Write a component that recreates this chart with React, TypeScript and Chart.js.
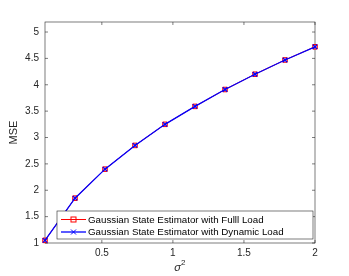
import React, { useEffect, useRef } from "react";
import { Chart, registerables } from "chart.js";

Chart.register(...registerables);

const sigma2 = [0.1, 0.3111, 0.5222, 0.7333, 0.9444, 1.1556, 1.3667, 1.5778, 1.7889, 2.0];
const mseFull = [1.05, 1.85, 2.4, 2.85, 3.25, 3.59, 3.91, 4.2, 4.47, 4.72];
const mseDynamic = [1.05, 1.85, 2.4, 2.85, 3.25, 3.59, 3.91, 4.2, 4.47, 4.72];
const xTicks = [0.5, 1, 1.5, 2];
const yTicks = [1, 1.5, 2, 2.5, 3, 3.5, 4, 4.5, 5];
const legendLabels = [
  "Gaussian State Estimator with Fulll Load",
  "Gaussian State Estimator with Dynamic Load",
];
const seriesColors = ["#ff0000", "#0000ff"];

const FONT = "'Liberation Sans', Arial, Helvetica, sans-serif";
const AXIS = "#262626";

const framePlugin = {
  id: "frame",
  beforeDatasetsDraw(chart: any) {
    const { ctx, chartArea: a, scales } = chart;
    ctx.save();
    ctx.strokeStyle = AXIS;
    ctx.lineWidth = 0.6;
    ctx.strokeRect(a.left, a.top, a.right - a.left, a.bottom - a.top);
    const tl = 3;
    ctx.beginPath();
    for (const v of xTicks) {
      const x = scales.x.getPixelForValue(v);
      ctx.moveTo(x, a.bottom);
      ctx.lineTo(x, a.bottom - tl);
      ctx.moveTo(x, a.top);
      ctx.lineTo(x, a.top + tl);
    }
    for (const v of yTicks) {
      const y = scales.y.getPixelForValue(v);
      ctx.moveTo(a.left, y);
      ctx.lineTo(a.left + tl, y);
      ctx.moveTo(a.right, y);
      ctx.lineTo(a.right - tl, y);
    }
    ctx.stroke();
    ctx.restore();
  },
  afterDraw(chart: any) {
    const { ctx, chartArea: a } = chart;
    ctx.save();
    // axis labels
    ctx.fillStyle = AXIS;
    ctx.font = `11px ${FONT}`;
    ctx.textAlign = "center";
    ctx.textBaseline = "middle";
    ctx.save();
    ctx.translate(14, (a.top + a.bottom) / 2);
    ctx.rotate(-Math.PI / 2);
    ctx.fillText("MSE", 0, 0);
    ctx.restore();
    const cx = (a.left + a.right) / 2;
    ctx.font = `italic 11px ${FONT}`;
    ctx.textAlign = "right";
    ctx.fillText("\u03c3", cx + 1, 268);
    ctx.font = `8px ${FONT}`;
    ctx.textAlign = "left";
    ctx.fillText("2", cx + 1, 263);

    // legend
    const lx = a.left + 12;
    const lr = a.right - 2;
    const lb = a.bottom - 4;
    const lt = lb - 28;
    ctx.fillStyle = "#ffffff";
    ctx.fillRect(lx, lt, lr - lx, lb - lt);
    ctx.strokeStyle = AXIS;
    ctx.lineWidth = 0.6;
    ctx.strokeRect(lx, lt, lr - lx, lb - lt);
    const rows = [lt + 8.5, lt + 21];
    legendLabels.forEach((label, i) => {
      const y = rows[i];
      const x0 = lx + 4;
      const x1 = x0 + 25;
      const xm = (x0 + x1) / 2;
      ctx.strokeStyle = seriesColors[i];
      ctx.lineWidth = i === 0 ? 1 : 1.3;
      ctx.beginPath();
      ctx.moveTo(x0, y);
      ctx.lineTo(x1, y);
      ctx.stroke();
      ctx.lineWidth = 1;
      if (i === 0) {
        ctx.strokeRect(xm - 2.5, y - 2.5, 5, 5);
      } else {
        ctx.beginPath();
        ctx.moveTo(xm - 2.5, y - 2.5);
        ctx.lineTo(xm + 2.5, y + 2.5);
        ctx.moveTo(xm + 2.5, y - 2.5);
        ctx.lineTo(xm - 2.5, y + 2.5);
        ctx.stroke();
      }
      ctx.fillStyle = "#000000";
      ctx.font = `9.75px ${FONT}`;
      ctx.textAlign = "left";
      ctx.textBaseline = "middle";
      ctx.fillText(label, x1 + 2, y + 0.5);
    });
    ctx.restore();
  },
};

export default function App() {
  const ref = useRef<HTMLCanvasElement | null>(null);
  useEffect(() => {
    document.body.style.margin = "0";
    const canvas = ref.current;
    if (!canvas) return;
    const chart = new Chart(canvas, {
      type: "line",
      data: {
        datasets: [
          {
            label: legendLabels[0],
            data: sigma2.map((x, i) => ({ x, y: mseFull[i] })),
            borderColor: seriesColors[0],
            backgroundColor: "rgba(0,0,0,0)",
            borderWidth: 1,
            pointStyle: "rect",
            pointRadius: 3.2,
            pointBorderColor: seriesColors[0],
            pointBackgroundColor: "rgba(255,0,0,0.25)",
            pointBorderWidth: 1,
            tension: 0,
            clip: false as any,
            order: 2,
          },
          {
            label: legendLabels[1],
            data: sigma2.map((x, i) => ({ x, y: mseDynamic[i] })),
            borderColor: seriesColors[1],
            backgroundColor: "rgba(0,0,0,0)",
            borderWidth: 1.3,
            pointStyle: "crossRot",
            pointRadius: 3.2,
            pointBorderColor: seriesColors[1],
            pointBorderWidth: 1.2,
            tension: 0,
            clip: false as any,
            order: 1,
          },
        ],
      },
      options: {
        animation: false,
        responsive: false,
        devicePixelRatio: 1,
        layout: { padding: { left: 0, right: 34, top: 22, bottom: 0 } },
        plugins: { legend: { display: false }, tooltip: { enabled: false } },
        scales: {
          x: {
            type: "linear",
            min: 0.1,
            max: 2,
            grid: { display: false, drawTicks: false },
            border: { display: false },
            afterBuildTicks: (s: any) => {
              s.ticks = xTicks.map((v) => ({ value: v }));
            },
            afterFit: (s: any) => {
              s.height = 33;
            },
            ticks: {
              color: AXIS,
              font: { family: FONT, size: 10 },
              padding: 4,
              maxRotation: 0,
              autoSkip: false,
              callback: (v: any) => String(v),
            },
          },
          y: {
            type: "linear",
            min: 1,
            max: 5.19,
            grid: { display: false, drawTicks: false },
            border: { display: false },
            afterBuildTicks: (s: any) => {
              s.ticks = yTicks.map((v) => ({ value: v }));
            },
            afterFit: (s: any) => {
              s.width = 45;
            },
            ticks: {
              color: AXIS,
              font: { family: FONT, size: 10 },
              padding: 6,
              autoSkip: false,
              callback: (v: any) => String(v),
            },
          },
        },
      },
      plugins: [framePlugin],
    } as any);
    return () => chart.destroy();
  }, []);
  return (
    <div style={{ position: "absolute", left: 0, top: 0, width: 349, height: 276, background: "#fff" }}>
      <canvas ref={ref} width={349} height={276} style={{ width: 349, height: 276 }} />
    </div>
  );
}
